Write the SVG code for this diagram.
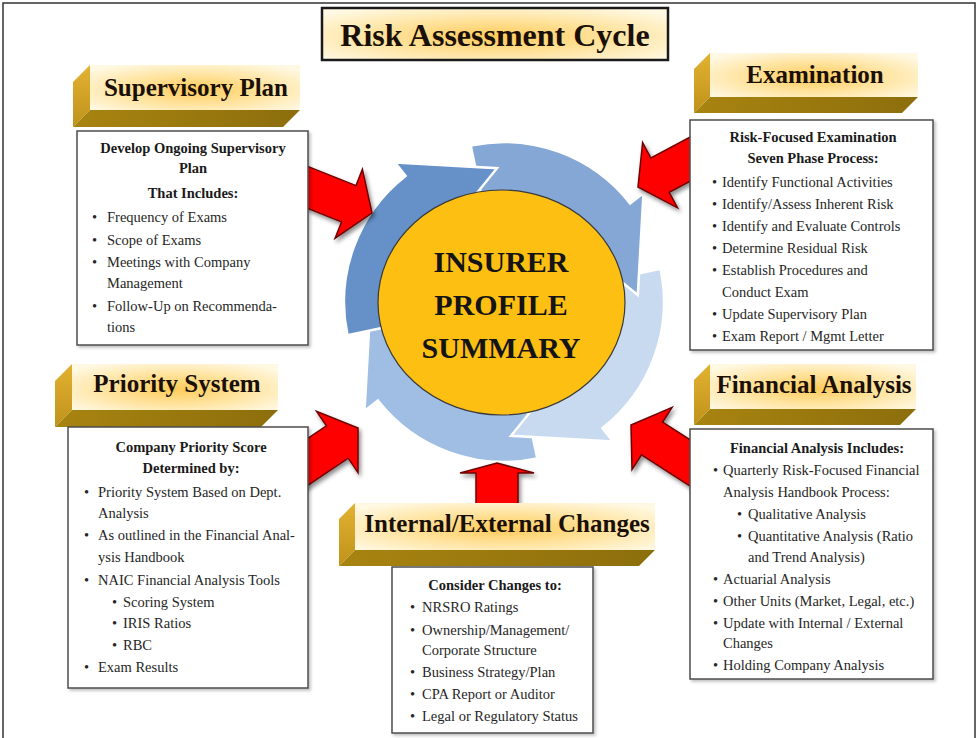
<svg xmlns="http://www.w3.org/2000/svg" width="979" height="738" viewBox="0 0 979 738">
<defs>
<radialGradient id="gHead" cx="50%" cy="55%" r="65%">
<stop offset="0" stop-color="#ffcb5a"/>
<stop offset="0.55" stop-color="#ffe5a4"/>
<stop offset="1" stop-color="#fff8e2"/>
</radialGradient>
<linearGradient id="gSide" x1="0" y1="0" x2="0" y2="1"><stop offset="0" stop-color="#e2b232"/><stop offset="1" stop-color="#c0921a"/></linearGradient>
<linearGradient id="gBottom" x1="0" y1="0" x2="1" y2="0"><stop offset="0" stop-color="#a88410"/><stop offset="1" stop-color="#8c6e0c"/></linearGradient>
<filter id="shadow" x="-30%" y="-30%" width="160%" height="160%"><feDropShadow dx="2" dy="3" stdDeviation="2" flood-color="#000" flood-opacity="0.45"/></filter>
<filter id="boxShadow" x="-10%" y="-10%" width="130%" height="130%"><feDropShadow dx="2" dy="2" stdDeviation="1.5" flood-color="#000" flood-opacity="0.25"/></filter>
<style>
.box{fill:#fff;stroke:#4d4d4d;stroke-width:1.5;filter:url(#boxShadow)}
.front{fill:url(#gHead)}
.side{fill:url(#gSide)}
.bot{fill:url(#gBottom)}
.red{fill:#ff0000;stroke:#6e0000;stroke-width:1.5;filter:url(#shadow)}
.blue{stroke:#fff;stroke-width:2.5;stroke-linejoin:miter}
text{font-family:"Liberation Serif","Times New Roman",serif}
.t{font-size:14.5px;fill:#262626}
.b{font-size:14.5px;font-weight:bold;fill:#1a1a1a;text-anchor:middle}
.h{font-size:25px;font-weight:bold;fill:#1a1008;text-anchor:middle}
.c{font-size:30px;font-weight:bold;fill:#141414;text-anchor:middle}
</style>
</defs>
<rect x="0" y="0" width="979" height="738" fill="#fff"/>
<rect x="3" y="3" width="972" height="745" fill="none" stroke="#333" stroke-width="1.5"/>

<g id="title">
<rect x="322" y="8" width="346" height="52" fill="url(#gHead)" stroke="#1a1a1a" stroke-width="2.5"/>
<text x="495" y="46" class="h" style="font-size:32px">Risk Assessment Cycle</text>
</g>

<g id="cycle">
<path class="blue" fill="#a0bee4" d="M537.3,458.5 A160,160 0 0 1 377.9,400.5 L364.5,411 L370.2,309 L431.5,358.6 L418.9,368.5 A108,108 0 0 0 526.5,407.6 Z"/>
<path class="blue" fill="#c8daf0" d="M660.5,268.7 A160,160 0 0 1 602.5,428.1 L613,441.5 L511,435.8 L560.6,374.5 L570.5,387.1 A108,108 0 0 0 609.6,279.5 Z"/>
<path class="blue" fill="#84a7d6" d="M470.7,145.5 A160,160 0 0 1 630.1,203.5 L643.5,193 L637.8,295 L576.5,245.4 L589.1,235.5 A108,108 0 0 0 481.5,196.4 Z"/>
<path class="blue" fill="#6591c8" d="M347.5,335.3 A160,160 0 0 1 405.5,175.9 L395,162.5 L497,168.2 L447.4,229.5 L437.5,216.9 A108,108 0 0 0 398.4,324.5 Z"/>
</g>

<g id="center">
<ellipse cx="501.5" cy="302.5" rx="123.5" ry="112.5" fill="#fdbf12" stroke="#3a3a3a" stroke-width="1.2"/>
<text class="c" x="501" y="272">INSURER</text>
<text class="c" x="501" y="315">PROFILE</text>
<text class="c" x="501" y="358">SUMMARY</text>
</g>

<g id="connectors">
<polygon class="red" points="372,213 362.4,169.3 356,185.6 300.2,163.4 285.7,199.7 341.5,221.9 335.1,238.2"/>
<polygon class="red" points="638,187 642.6,142.6 650.9,158 703.8,129.8 722.2,164.2 669.2,192.4 677.5,207.8"/>
<polygon class="red" points="358,428 316.6,411.3 326.4,425.8 276.6,459.3 298.4,491.7 348.2,458.2 358,472.6"/>
<polygon class="red" points="631,425 672.1,407.4 662.6,422.1 721.5,460 700.4,492.8 641.5,454.9 632,469.6"/>
<polygon class="red" points="497,463 534,473 518,473 518,510 476,510 476,473 460,473"/>
</g>

<g id="supervisory">
<polygon class="side" points="90,65 90,110 73,127 73,82"/>
<polygon class="bot" points="90,110 300,110 283,127 73,127"/>
<rect class="front" x="90" y="65" width="210" height="45"/>
<text class="h" x="196" y="96">Supervisory Plan</text>
<rect class="box" x="77" y="131" width="231" height="214"/>
<text class="b" x="193" y="153">Develop Ongoing Supervisory</text>
<text class="b" x="193" y="173">Plan</text>
<text class="b" x="193" y="198">That Includes:</text>
<text class="t"><tspan x="92" y="222">•</tspan><tspan x="107">Frequency of Exams</tspan></text>
<text class="t"><tspan x="92" y="245">•</tspan><tspan x="107">Scope of Exams</tspan></text>
<text class="t"><tspan x="92" y="267">•</tspan><tspan x="107">Meetings with Company</tspan></text>
<text class="t" x="107" y="288">Management</text>
<text class="t"><tspan x="92" y="311">•</tspan><tspan x="107">Follow-Up on Recommenda-</tspan></text>
<text class="t" x="107" y="332">tions</text>
</g>

<g id="examination">
<polygon class="side" points="710,53 710,97 694,113 694,69"/>
<polygon class="bot" points="710,97 918,97 902,113 694,113"/>
<rect class="front" x="710" y="53" width="208" height="44"/>
<text class="h" x="815" y="83">Examination</text>
<rect class="box" x="690" y="120" width="243" height="230"/>
<text class="b" x="813" y="142">Risk-Focused Examination</text>
<text class="b" x="813" y="163">Seven Phase Process:</text>
<text class="t"><tspan x="712" y="187">•</tspan><tspan x="722">Identify Functional Activities</tspan></text>
<text class="t"><tspan x="712" y="209">•</tspan><tspan x="722">Identify/Assess Inherent Risk</tspan></text>
<text class="t"><tspan x="712" y="231">•</tspan><tspan x="722">Identify and Evaluate Controls</tspan></text>
<text class="t"><tspan x="712" y="253">•</tspan><tspan x="722">Determine Residual Risk</tspan></text>
<text class="t"><tspan x="712" y="275">•</tspan><tspan x="722">Establish Procedures and</tspan></text>
<text class="t" x="722" y="297">Conduct Exam</text>
<text class="t"><tspan x="712" y="319">•</tspan><tspan x="722">Update Supervisory Plan</tspan></text>
<text class="t"><tspan x="712" y="341">•</tspan><tspan x="722">Exam Report / Mgmt Letter</tspan></text>
</g>

<g id="priority">
<polygon class="side" points="72,364 72,410 55,427 55,381"/>
<polygon class="bot" points="72,410 278,410 261,427 55,427"/>
<rect class="front" x="72" y="364" width="206" height="46"/>
<text class="h" x="177" y="392">Priority System</text>
<rect class="box" x="68" y="427" width="240" height="261"/>
<text class="b" x="191" y="452">Company Priority Score</text>
<text class="b" x="191" y="473">Determined by:</text>
<text class="t"><tspan x="84" y="497">•</tspan><tspan x="98">Priority System Based on Dept.</tspan></text>
<text class="t" x="98" y="518">Analysis</text>
<text class="t"><tspan x="84" y="540">•</tspan><tspan x="98">As outlined in the Financial Anal-</tspan></text>
<text class="t" x="98" y="562">ysis Handbook</text>
<text class="t"><tspan x="84" y="585">•</tspan><tspan x="98">NAIC Financial Analysis Tools</tspan></text>
<text class="t"><tspan x="112" y="607">•</tspan><tspan x="123">Scoring System</tspan></text>
<text class="t"><tspan x="112" y="628">•</tspan><tspan x="123">IRIS Ratios</tspan></text>
<text class="t"><tspan x="112" y="650">•</tspan><tspan x="123">RBC</tspan></text>
<text class="t"><tspan x="84" y="672">•</tspan><tspan x="98">Exam Results</tspan></text>
</g>

<g id="financial">
<polygon class="side" points="710,364 710,409 694,425 694,380"/>
<polygon class="bot" points="710,409 916,409 900,425 694,425"/>
<rect class="front" x="710" y="364" width="206" height="45"/>
<text class="h" x="814" y="393">Financial Analysis</text>
<rect class="box" x="690" y="429" width="243" height="250"/>
<text class="b" x="817" y="453">Financial Analysis Includes:</text>
<text class="t"><tspan x="713" y="475">•</tspan><tspan x="723">Quarterly Risk-Focused Financial</tspan></text>
<text class="t" x="723" y="497">Analysis Handbook Process:</text>
<text class="t"><tspan x="737" y="519">•</tspan><tspan x="748">Qualitative Analysis</tspan></text>
<text class="t"><tspan x="737" y="541">•</tspan><tspan x="748">Quantitative Analysis (Ratio</tspan></text>
<text class="t" x="748" y="562">and Trend Analysis)</text>
<text class="t"><tspan x="713" y="584">•</tspan><tspan x="723">Actuarial Analysis</tspan></text>
<text class="t"><tspan x="713" y="606">•</tspan><tspan x="723">Other Units (Market, Legal, etc.)</tspan></text>
<text class="t"><tspan x="713" y="628">•</tspan><tspan x="723">Update with Internal / External</tspan></text>
<text class="t" x="723" y="648">Changes</text>
<text class="t"><tspan x="713" y="670">•</tspan><tspan x="723">Holding Company Analysis</tspan></text>
</g>

<g id="changes">
<polygon class="side" points="355,503 355,550 339,566 339,519"/>
<polygon class="bot" points="355,550 655,550 639,566 339,566"/>
<rect class="front" x="355" y="503" width="300" height="47"/>
<text class="h" x="507" y="532">Internal/External Changes</text>
<rect class="box" x="392" y="567" width="201" height="166"/>
<text class="b" x="495" y="590">Consider Changes to:</text>
<text class="t"><tspan x="410" y="612">•</tspan><tspan x="422">NRSRO Ratings</tspan></text>
<text class="t"><tspan x="410" y="635">•</tspan><tspan x="422">Ownership/Management/</tspan></text>
<text class="t" x="422" y="655">Corporate Structure</text>
<text class="t"><tspan x="410" y="677">•</tspan><tspan x="422">Business Strategy/Plan</tspan></text>
<text class="t"><tspan x="410" y="699">•</tspan><tspan x="422">CPA Report or Auditor</tspan></text>
<text class="t"><tspan x="410" y="721">•</tspan><tspan x="422">Legal or Regulatory Status</tspan></text>
</g>
</svg>
